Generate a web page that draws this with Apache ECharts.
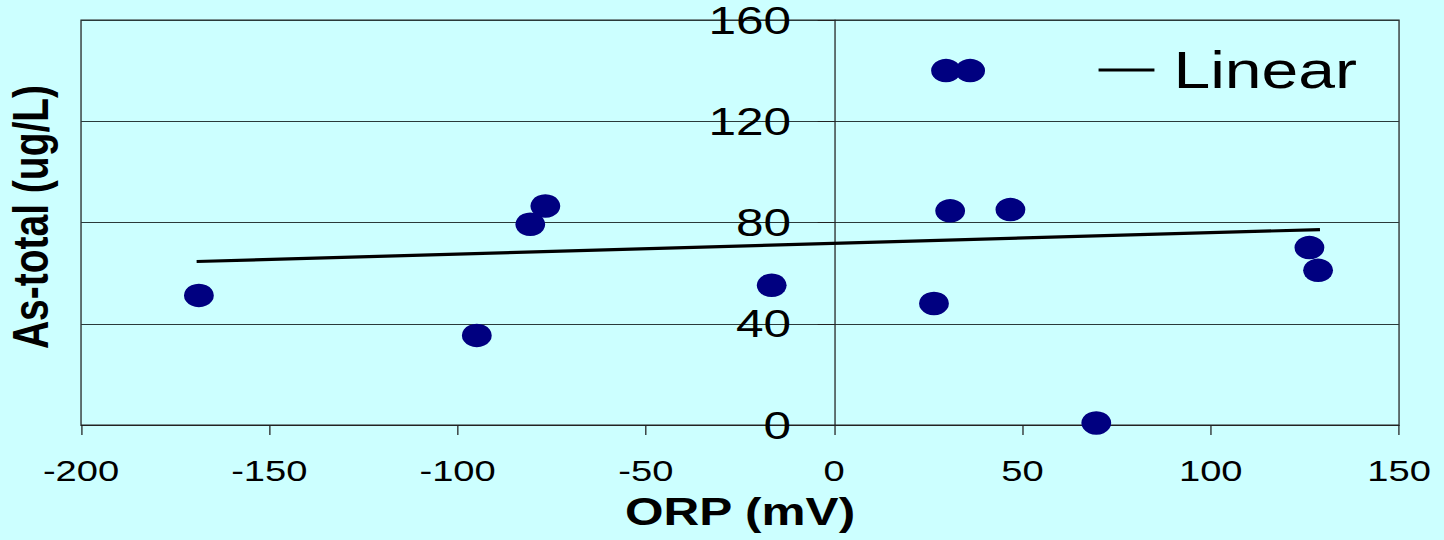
<!DOCTYPE html>
<html>
<head>
<meta charset="utf-8">
<script src="https://cdn.jsdelivr.net/npm/echarts@6/dist/echarts.min.js"></script>
<style>
  html, body { margin: 0; padding: 0; background: #CCFFFF; overflow: hidden; }
  /* the slide stretches the whole figure horizontally */
  #chart { width: 1137px; height: 540px; transform: scaleX(1.27001); transform-origin: 0 0; }
</style>
</head>
<body>
<div id="chart"></div>
<script>
// ORP (mV) vs total arsenic (ug/L) samples
const orpValues = [-168.7, -94.9, -80.7, -76.7, -16.6, 26.5, 29.7, 36.1, 30.8, 46.8, 69.6, 126.2, 128.5];
const asTotalValues = [51.2, 35.4, 79.3, 86.5, 55.2, 48.0, 140.0, 140.0, 84.6, 85.1, 0.8, 70.1, 61.1];

// linear trend line end points
const trendOrp = [-169.3, 129.0];
const trendAs = [64.6, 77.2];

const xTicks = { min: -200, max: 150, step: 50 };
const yTicks = { min: 0, max: 160, step: 40 };

const FONT = '"Liberation Sans", Arial, sans-serif';

const GRID_LEFT = 63.8;
const GRID_RIGHT = 35.4;
const CHART_W = 1137;

// the value axis crosses at ORP = 0
const plotW = CHART_W - GRID_LEFT - GRID_RIGHT;
const yAxisShift = plotW * (0 - xTicks.min) / (xTicks.max - xTicks.min);

const chart = echarts.init(document.getElementById('chart'), null, { renderer: 'svg' });

chart.setOption({
  backgroundColor: '#CCFFFF',
  animation: false,
  grid: {
    left: GRID_LEFT, right: GRID_RIGHT, top: 20, bottom: 115,
    containLabel: false, outerBoundsMode: 'none',
    show: true, backgroundColor: '#CCFFFF', borderColor: '#222', borderWidth: 1
  },
  legend: {
    left: 860, top: 39,
    data: [{ name: 'Linear', icon: 'rect' }],
    itemWidth: 44, itemHeight: 3,
    textStyle: { fontFamily: FONT, fontSize: 52, color: '#000', padding: [0, 0, 0, 10] },
    selectedMode: false
  },
  xAxis: {
    type: 'value',
    min: xTicks.min, max: xTicks.max, interval: xTicks.step,
    name: 'ORP (mV)', nameLocation: 'middle', nameGap: 67,
    nameTextStyle: { fontFamily: FONT, fontSize: 39, fontWeight: 'bold', color: '#000' },
    axisLine: { show: true, onZero: false, lineStyle: { color: '#222', width: 1 } },
    axisTick: { show: true, length: 10, lineStyle: { color: '#222' } },
    axisLabel: { fontFamily: FONT, fontSize: 30, color: '#000', margin: 30 },
    splitLine: { show: false }
  },
  yAxis: {
    type: 'value',
    min: yTicks.min, max: yTicks.max, interval: yTicks.step,
    offset: -yAxisShift,
    axisLine: { show: true, onZero: false, lineStyle: { color: '#222', width: 1 } },
    axisTick: { show: true, length: 13, lineStyle: { color: '#222' } },
    axisLabel: { fontFamily: FONT, fontSize: 39, color: '#000', margin: 34, padding: [6, 0, 0, 0] },
    splitLine: { show: true, lineStyle: { color: '#2a3a3a', width: 1 } }
  },
  graphic: [{
    type: 'text',
    x: 24, y: 217,
    rotation: Math.PI / 2,
    style: {
      text: 'As-total (ug/L)',
      fontFamily: FONT, fontSize: 39, fontWeight: 'bold', fill: '#000',
      textAlign: 'center', textVerticalAlign: 'middle'
    }
  }],
  series: [
    {
      name: 'Linear',
      type: 'line',
      data: trendOrp.map((x, i) => [x, trendAs[i]]),
      symbol: 'none',
      lineStyle: { color: '#000', width: 3.2 },
      itemStyle: { color: '#000' },
      z: 2
    },
    {
      name: 'As-total',
      type: 'scatter',
      data: orpValues.map((x, i) => [x, asTotalValues[i]]),
      symbol: 'circle',
      symbolSize: 23.5,
      itemStyle: { color: '#000080', opacity: 1 },
      z: 3
    }
  ]
});
</script>
</body>
</html>
